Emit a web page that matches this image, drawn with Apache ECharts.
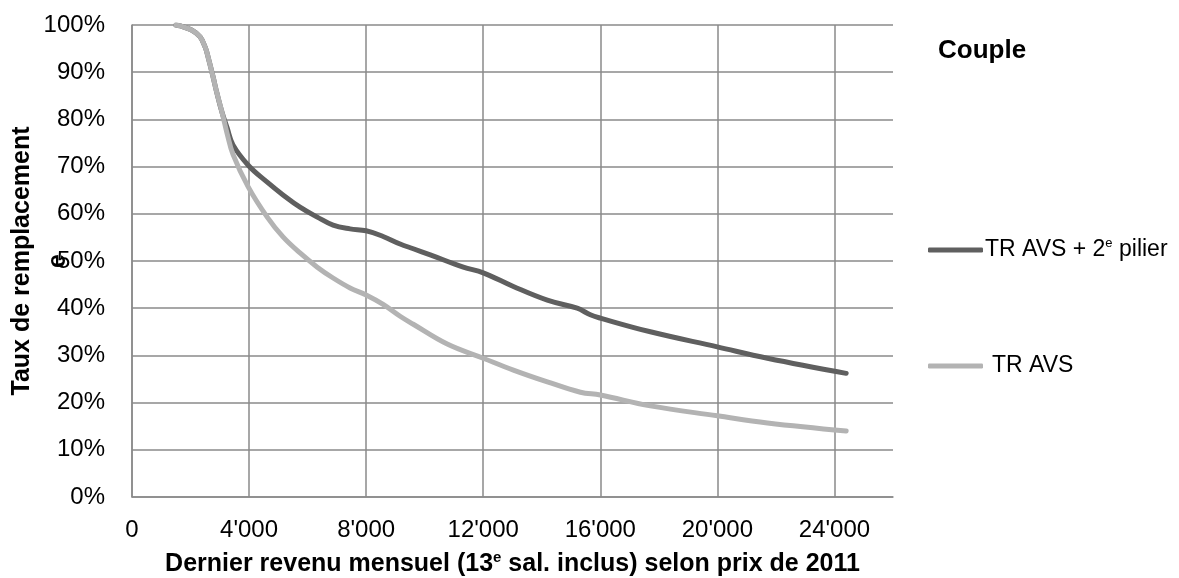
<!DOCTYPE html>
<html>
<head>
<meta charset="utf-8">
<title>Taux de remplacement - Couple</title>
<script src="https://cdn.jsdelivr.net/npm/echarts@6/dist/echarts.min.js"></script>
<style>
	html, body { margin: 0; padding: 0; background: #fff; }
	#chart { width: 1179px; height: 578px; }
</style>
</head>
<body>
<div id="chart"></div>
<script type="text/javascript">
	// revenu mensuel (CHF) et taux de remplacement (%)
	var incomeDark = [1500, 1650, 2050, 2325, 2500, 2600, 2770, 2900, 3080, 3250, 3450, 3970, 4620, 5160, 5740, 6330, 6870, 7450, 8000, 8580, 9160, 9610, 10190, 11320, 12000, 13030, 14190, 15210, 15660, 16000, 17710, 20000, 21710, 24400];
	var rateDark = [100, 99.8, 98.9, 97.5, 95.3, 93.2, 89.0, 85.6, 81.4, 78.2, 74.6, 70.3, 66.7, 64.0, 61.4, 59.3, 57.6, 56.8, 56.4, 55.2, 53.6, 52.6, 51.3, 48.7, 47.5, 44.6, 41.7, 40.0, 38.6, 37.9, 35.0, 31.8, 29.4, 26.2];
	var incomeLight = [1500, 1650, 2050, 2325, 2500, 2600, 2770, 2900, 3080, 3250, 3450, 3970, 4620, 5160, 5740, 6330, 6870, 7450, 8000, 8580, 9160, 9610, 10770, 12000, 13030, 14190, 15320, 16000, 17710, 20000, 21710, 24400];
	var rateLight = [100, 99.8, 98.9, 97.5, 95.3, 93.2, 89.0, 85.6, 81.4, 77.0, 72.6, 65.7, 59.3, 55.1, 51.7, 48.7, 46.4, 44.3, 42.8, 40.8, 38.3, 36.6, 32.4, 29.4, 26.9, 24.4, 22.2, 21.6, 19.3, 17.2, 15.7, 14.0];
	var seriesNames = ['TR AVS + 2e pilier', 'TR AVS'];
	var xTicks = [0, 4000, 8000, 12000, 16000, 20000, 24000];

	function pairs(xs, ys) {
		var out = [];
		for (var i = 0; i < xs.length; i++) out.push([xs[i], ys[i]]);
		return out;
	}
	function fmtThousands(v) {
		return String(v).replace(/\B(?=(\d{3})+(?!\d))/g, "'");
	}

	var font = '"Liberation Sans", Arial, sans-serif';
	var gridColor = '#8a8a8a';

	var option = {
		animation: false,
		textStyle: { fontFamily: font },
		title: {
			text: 'Couple',
			left: 938,
			top: 38,
			padding: 0,
			textStyle: { fontFamily: font, fontSize: 26, fontWeight: 'bold', color: '#000' }
		},
		legend: [
			{
				orient: 'vertical',
				left: 928,
				top: 237,
				padding: 0,
				data: [seriesNames[0]],
				icon: 'roundRect',
				itemWidth: 55,
				itemHeight: 5,
				formatter: function () { return '{n|TR AVS + 2}{s|e}{n| pilier}'; },
				textStyle: {
					color: '#000',
					padding: [0, 0, 0, -3],
					rich: {
						n: { fontFamily: font, fontSize: 23, color: '#000', lineHeight: 26 },
						s: { fontFamily: font, fontSize: 13, color: '#000', verticalAlign: 'top', lineHeight: 14 }
					}
				}
			},
			{
				orient: 'vertical',
				left: 928,
				top: 353,
				padding: 0,
				data: [seriesNames[1]],
				icon: 'roundRect',
				itemWidth: 55,
				itemHeight: 5,
				textStyle: { fontFamily: font, fontSize: 23, color: '#000', lineHeight: 26, padding: [0, 0, 0, 4] }
			}
		],
		grid: { left: 132, right: 286, top: 25, bottom: 81, containLabel: false, outerBoundsMode: 'none' },
		xAxis: {
			type: 'value',
			min: 0,
			max: 26000,
			interval: 4000,
			name: '{b|Dernier revenu mensuel (13}{s|e}{b| sal. inclus) selon prix de 2011}',
			nameLocation: 'middle',
			nameGap: 53,
			nameMoveOverlap: false,
			nameTextStyle: {
				rich: {
					b: { fontFamily: font, fontSize: 25, fontWeight: 'bold', color: '#000', lineHeight: 28 },
					s: { fontFamily: font, fontSize: 15, fontWeight: 'bold', color: '#000', verticalAlign: 'top', lineHeight: 16 }
				}
			},
			axisLine: { show: true, lineStyle: { color: gridColor, width: 1.5 } },
			axisTick: { show: false },
			axisLabel: {
				margin: 21,
				fontFamily: font,
				fontSize: 24,
				color: '#000',
				showMaxLabel: false,
				formatter: function (v) { return xTicks.indexOf(v) >= 0 ? fmtThousands(v) : ''; }
			},
			splitLine: { show: true, showMaxLine: false, lineStyle: { color: gridColor, width: 1.5 } }
		},
		yAxis: {
			type: 'value',
			min: 0,
			max: 100,
			interval: 10,
			name: 'Taux de remplacement\ne',
			nameLocation: 'middle',
			nameRotate: 90,
			nameGap: 56,
			nameMoveOverlap: false,
			nameTextStyle: { fontFamily: font, fontSize: 25, fontWeight: 'bold', color: '#000', lineHeight: 36 },
			axisLine: { show: true, lineStyle: { color: gridColor, width: 1.5 } },
			axisTick: { show: false },
			axisLabel: { margin: 27, fontFamily: font, fontSize: 24, color: '#000', formatter: '{value}%' },
			splitLine: { show: true, lineStyle: { color: gridColor, width: 1.5 } }
		},
		series: [
			{
				name: seriesNames[0],
				type: 'line',
				data: pairs(incomeDark, rateDark),
				smooth: 0.4,
				showSymbol: false,
				lineStyle: { color: '#5f5f5f', width: 5, cap: 'round' },
				itemStyle: { color: '#5f5f5f' }
			},
			{
				name: seriesNames[1],
				type: 'line',
				data: pairs(incomeLight, rateLight),
				smooth: 0.4,
				showSymbol: false,
				lineStyle: { color: '#b3b3b3', width: 5, cap: 'round' },
				itemStyle: { color: '#b3b3b3' }
			}
		]
	};

	var chart = echarts.init(document.getElementById('chart'), null, { renderer: 'canvas' });
	chart.setOption(option);
</script>
</body>
</html>
